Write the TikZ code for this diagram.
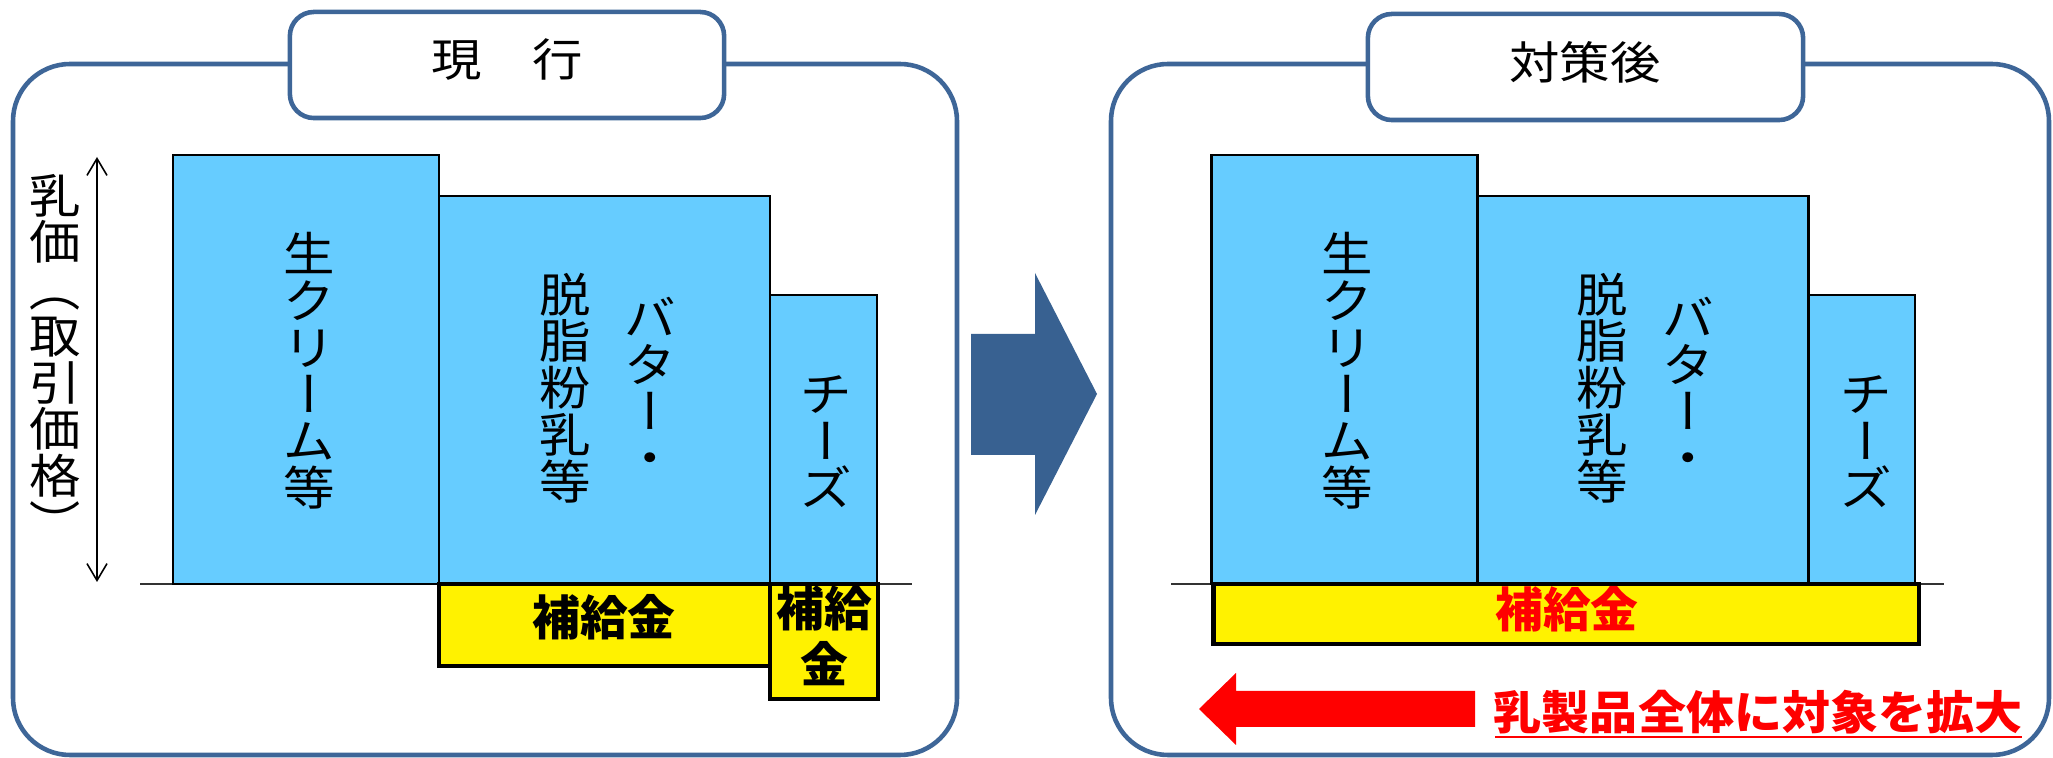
\documentclass[tikz,border=0pt]{standalone}
\usepackage{fontspec}
\usepackage{graphicx}
\usetikzlibrary{arrows.meta}
\newfontfamily\jp{Noto Sans CJK JP}
\definecolor{panelblue}{RGB}{62,102,152}
\definecolor{arrowblue}{RGB}{56,97,145}
\definecolor{barblue}{RGB}{102,204,255}
\newcommand\vstrutx{\rule[-0.12em]{0pt}{1em}}
\newcommand\vrot[1]{\rotatebox[origin=c]{-90}{\makebox[1em]{\vstrutx#1}}}
\newcommand\vstack[1]{\vbox{\baselineskip=1em\lineskiplimit=-100pt\lineskip=0pt\halign{\hfil##\hfil\vstrutx\cr#1\crcr}}}
\newcommand\wide[2][1.1]{\scalebox{#1}[1]{#2}}
\tikzset{
  panel/.style={draw=panelblue, line width=1.3pt, fill=white, rounded corners=0.57cm},
  titlebox/.style={draw=panelblue, line width=1.3pt, fill=white, rounded corners=0.24cm},
  titletext/.style={font=\jp\fontsize{12.8pt}{12.8pt}\selectfont, inner sep=0pt},
  vt/.style={font=\jp\fontsize{13.3pt}{13.3pt}\selectfont, inner sep=0pt},
  bar/.style={draw=black, line width=0.6pt, fill=barblue},
  subsidy/.style={draw=black, line width=1.3pt, fill=yellow},
  subtext/.style={font=\jp\bfseries\fontsize{13.6pt}{15.9pt}\selectfont, inner sep=0pt, align=center},
  groundline/.style={draw=black!80, line width=0.45pt},
  dimarrow/.style={line width=0.45pt, {Straight Barb[length=4.8pt,width=5.7pt]}-{Straight Barb[length=4.8pt,width=5.7pt]}},
}
\begin{document}
\begin{tikzpicture}[x=0.01cm, y=-0.01cm]
\useasboundingbox (0,0) rectangle (2053,758);
\fill[white] (0,0) rectangle (2053,758);

% ---------- left panel ----------
\draw[panel] (13,64) rectangle (957,755);
\node[titlebox, minimum width=4.34cm, minimum height=1.06cm] (tbL) at (507,65) {};
\node[titletext] (ttL) at (507,60) {\wide[1.12]{現　行}};

\coordinate (atop) at (97,157);
\coordinate (abot) at (97,582);
\draw[dimarrow] (atop) -- (abot);
\node[vt] (lab) at (55,359) {\wide{\vstack{乳\cr 価\cr \vrot{（}\cr 取\cr 引\cr 価\cr 格\cr \vrot{）}}}};

\draw[groundline] (140,584) -- (912,584);
\draw[bar] (173,155) rectangle (439,584);
\draw[bar] (439,196) rectangle (770,584);
\draw[bar] (770,295) rectangle (877,584);
\node[vt] (creamL) at (309,371) {\wide{\vstack{生\cr ク\cr リ\cr \vrot{ー}\cr ム\cr 等}}};
\node[vt] (butterL) at (650,388) {\wide{\vstack{バ\cr タ\cr \vrot{ー}\cr ・}}};
\node[vt] (skimL) at (565,388) {\wide{\vstack{脱\cr 脂\cr 粉\cr 乳\cr 等}}};
\node[vt] (cheeseL) at (826,441) {\wide{\vstack{チ\cr \vrot{ー}\cr ズ}}};

\draw[subsidy] (439,584) rectangle (770,666);
\draw[subsidy] (770,584) rectangle (878,699);
\node[subtext] (subL1) at (604,617) {補給金};
\node[subtext] (subL2) at (824,636) {補給\\金};

% ---------- middle arrow ----------
\fill[arrowblue] (971,334) -- (1035,334) -- (1035,273) -- (1097,394) -- (1035,515) -- (1035,455) -- (971,455) -- cycle;

% ---------- right panel ----------
\draw[panel] (1111,64) rectangle (2049,755);
\node[titlebox, minimum width=4.35cm, minimum height=1.06cm] (tbR) at (1585.5,67) {};
\node[titletext] (ttR) at (1585,62) {\wide[1.12]{対策後}};

\draw[groundline] (1171,584) -- (1944,584);
\draw[bar] (1211.5,155) rectangle (1477.5,584);
\draw[bar] (1477.5,196) rectangle (1808.5,584);
\draw[bar] (1808.5,295) rectangle (1915,584);
\node[vt] (creamR) at (1347,371) {\wide{\vstack{生\cr ク\cr リ\cr \vrot{ー}\cr ム\cr 等}}};
\node[vt] (butterR) at (1688,388) {\wide{\vstack{バ\cr タ\cr \vrot{ー}\cr ・}}};
\node[vt] (skimR) at (1602,388) {\wide{\vstack{脱\cr 脂\cr 粉\cr 乳\cr 等}}};
\node[vt] (cheeseR) at (1866,441) {\wide{\vstack{チ\cr \vrot{ー}\cr ズ}}};

\draw[subsidy] (1213.5,584) rectangle (1919,644);
\node[subtext, text=red] (subR) at (1567,609) {補給金};

\fill[red] (1199,709) -- (1236,673) -- (1236,691) -- (1475,691) -- (1475,727) -- (1236,727) -- (1236,745) -- cycle;
\node[font=\jp\bfseries\fontsize{13pt}{13pt}\selectfont, text=red, inner sep=0pt] (expand) at (1758,712) {\wide[1.05]{乳製品全体に対象を拡大}};
\draw[red, line width=0.7pt] (1495,737) -- (2022,737);
\end{tikzpicture}
\end{document}
